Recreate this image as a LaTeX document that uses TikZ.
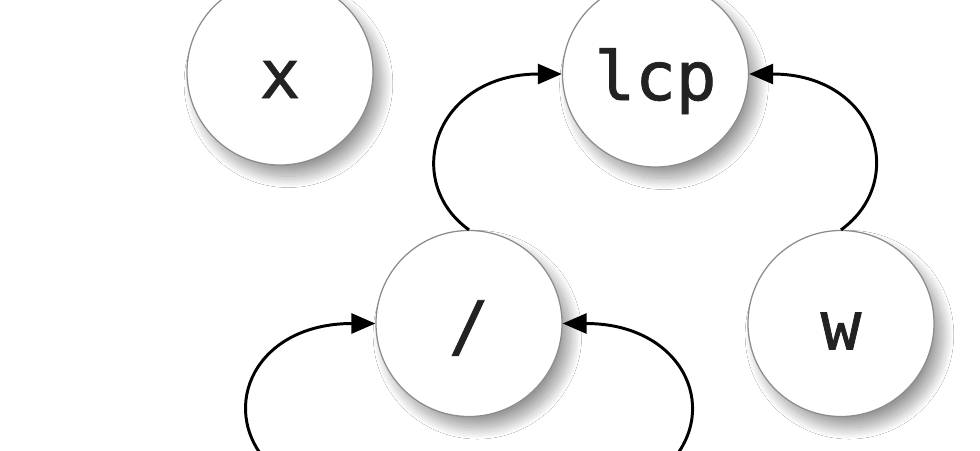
\documentclass[tikz,border=0pt]{standalone}
\usepackage{fontspec}
\newfontfamily\monofont[FakeBold=1.2]{DejaVu Sans Mono}
\usetikzlibrary{arrows.meta,shadows.blur}
\definecolor{ringgray}{HTML}{8C8C8C}
\definecolor{txt}{HTML}{222222}
\tikzset{
  vnode/.style={circle, draw=ringgray, line width=0.9pt, fill=white,
    minimum size=4.65cm, inner sep=0pt,
    font=\monofont\fontsize{48}{48}\selectfont, text=txt,
    text height=49pt, text depth=12pt,
    blur shadow={shadow xshift=6pt, shadow yshift=-8pt, shadow blur radius=8pt, shadow blur steps=30, shadow opacity=40}},
  edge/.style={line width=2.1pt, black, -{Triangle[length=0.6cm,width=0.5cm]}}
}
\begin{document}
\begin{tikzpicture}[x=0.025cm,y=-0.025cm]
\clip (0,0) rectangle (980,450);
\fill[white] (0,0) rectangle (980,450);
\node[vnode] (x) at (280,72) {x};
\node[vnode] (lcp) at (655.5,74) {lcp};
\node[vnode] (slash) at (469,323.5) {/};
\node[vnode] (w) at (841,323.5) {w};
\coordinate (a) at (267,462);
\coordinate (b) at (671,462);
\draw[edge] (slash.north) .. controls +(-68,-49) and +(-127,0) .. (lcp.west);
\draw[edge] (w.north) .. controls +(68,-49) and +(127,0) .. (lcp.east);
\draw[edge] (a) .. controls +(-49,-55) and +(-120,0) .. (slash.west);
\draw[edge] (b) .. controls +(50,-56) and +(118,0) .. (slash.east);
\end{tikzpicture}
\end{document}
